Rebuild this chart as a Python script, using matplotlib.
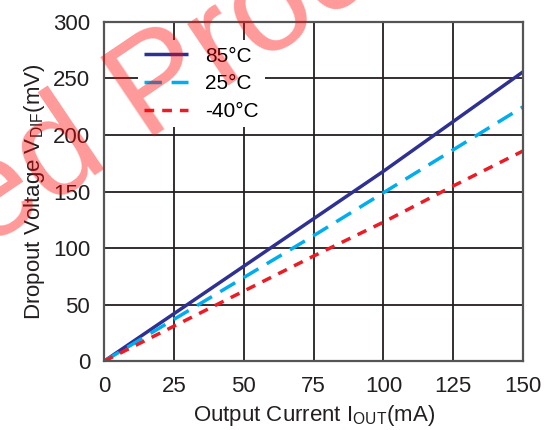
import matplotlib
matplotlib.use("Agg")
import matplotlib.pyplot as plt

plt.rcParams['font.family'] = ['Liberation Sans', 'DejaVu Sans']
plt.rcParams['mathtext.fontset'] = 'custom'
plt.rcParams['mathtext.rm'] = 'Liberation Sans'

current = [0, 25, 50, 75, 100, 125, 150]
v_85 = [0, 42, 84, 126, 168, 212, 256]
v_25 = [0, 37, 74, 111, 149, 187, 225]
v_m40 = [0, 31, 62, 93, 123, 155, 186]
labels = ['85°C', '25°C', '-40°C']
xticks = [0, 25, 50, 75, 100, 125, 150]
yticks = [0, 50, 100, 150, 200, 250, 300]

fig = plt.figure(figsize=(5.45, 4.3), dpi=100)
ax = fig.add_axes([0.191, 0.160, 0.769, 0.789])

ax.plot(current, v_85, color='#2e3192', lw=2.5, label=labels[0], solid_capstyle='butt')
ax.plot(current, v_25, color='#00aeef', lw=2.5, dashes=(5, 2.8), label=labels[1])
ax.plot(current, v_m40, color='#ed1c24', lw=2.5, dashes=(2.8, 2.3), label=labels[2])

ax.set_xlim(0, 150)
ax.set_ylim(0, 300)
ax.set_xticks(xticks)
ax.set_yticks(yticks)
ax.tick_params(length=0, labelsize=16, colors='#231f20')
ax.tick_params(axis='x', pad=11)
ax.tick_params(axis='y', pad=10)
ax.grid(True, color='#231f20', lw=1.3)
ax.set_axisbelow(True)
for s in ax.spines.values():
    s.set_color('#555555')
    s.set_linewidth(1.6)

ax.set_xlabel(r'Output Current I$\mathregular{_{OUT}}$(mA)', fontsize=16, color='#231f20', labelpad=4)
ax.set_ylabel(r'Dropout Voltage V$\mathregular{_{DIF}}$(mV)', fontsize=16, color='#231f20', labelpad=4)

leg = ax.legend(loc='upper left', bbox_to_anchor=(0.081, 0.946), frameon=True, fontsize=15,
                handlelength=2.1, handletextpad=0.8, labelspacing=0.42, borderpad=0.3,
                borderaxespad=0)
leg.get_frame().set_edgecolor('none')
leg.get_frame().set_facecolor('white')
leg.get_frame().set_alpha(1)
leg.get_frame().set_boxstyle('square', pad=0)

fig.text(-0.028, 0.418, 'ed Product', fontsize=100, color='#ff0000', alpha=0.4,
         rotation=34, rotation_mode='anchor', ha='left', va='baseline')

fig.savefig('out.png', dpi=100)
